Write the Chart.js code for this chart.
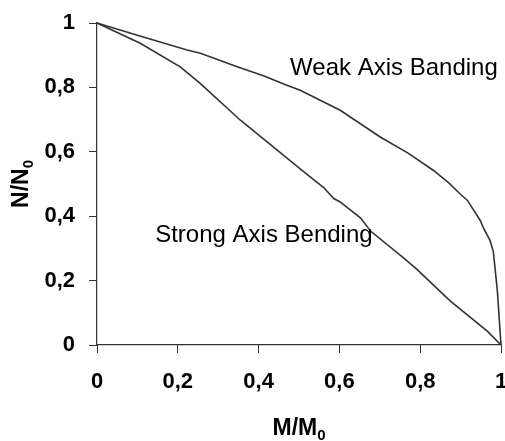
<!DOCTYPE html>
<html><head><meta charset="utf-8">
<script src="https://cdn.jsdelivr.net/npm/chart.js@4"></script>
<style>html,body{margin:0;padding:0;background:#fff}#wrap{width:505px;height:441px}</style>
</head><body><div id="wrap"><canvas id="c" width="505" height="441"></canvas></div>
<script>
// Data (M/M0 vs N/N0)
const weakM  = [0, 0.10, 0.223, 0.256, 0.347, 0.412, 0.470, 0.503, 0.602, 0.701, 0.770, 0.833, 0.870, 0.899, 0.917, 0.949, 0.956, 0.973, 0.981, 0.991, 1.0];
const weakN  = [1, 0.962, 0.916, 0.906, 0.864, 0.836, 0.807, 0.791, 0.729, 0.646, 0.596, 0.542, 0.504, 0.469, 0.449, 0.386, 0.365, 0.324, 0.290, 0.168, 0];
const strongM = [0, 0.107, 0.206, 0.256, 0.355, 0.503, 0.561, 0.586, 0.601, 0.652, 0.677, 0.758, 0.792, 0.874, 0.966, 1.0];
const strongN = [1, 0.937, 0.864, 0.812, 0.698, 0.547, 0.489, 0.455, 0.445, 0.395, 0.354, 0.271, 0.235, 0.137, 0.043, 0];
const xTickValues = [0, 0.2, 0.4, 0.6, 0.8, 1];
const yTickValues = [0, 0.2, 0.4, 0.6, 0.8, 1];
const xTitle = ['M/M', '0'];
const yTitle = ['N/N', '0'];
const noteTexts = ['Weak Axis Banding', 'Strong Axis Bending'];
const noteM = [0.478, 0.144];
const noteN = [0.839, 0.321];

const FONT = '"Liberation Sans", Arial, sans-serif';
const LINE = '#333333';
const toPts = (xs, ys) => xs.map((x, i) => ({x: x, y: ys[i]}));
const fmt = v => String(Math.round(v * 10) / 10).replace('.', ',');

const textPlugin = {
  id: 'texts',
  afterDraw(chart) {
    const ctx = chart.ctx, a = chart.chartArea;
    const xs = chart.scales.x, ys = chart.scales.y;
    ctx.save();
    ctx.fillStyle = '#000';
    ctx.textBaseline = 'alphabetic';
    // annotations
    ctx.font = '24px ' + FONT;
    ctx.textAlign = 'left';
    noteTexts.forEach((t, i) => {
      ctx.fillText(t, xs.getPixelForValue(noteM[i]), ys.getPixelForValue(noteN[i]));
    });
    // x title with subscript
    const big = 'bold 23px ' + FONT, small = 'bold 15px ' + FONT;
    ctx.font = big; const w1 = ctx.measureText(xTitle[0]).width;
    ctx.font = small; const w2 = ctx.measureText(xTitle[1]).width;
    const cx = (a.left + a.right) / 2, by = a.bottom + 90;
    let sx = cx - (w1 + w2) / 2;
    ctx.font = big; ctx.fillText(xTitle[0], sx, by);
    ctx.font = small; ctx.fillText(xTitle[1], sx + w1, by + 5);
    // y title rotated
    ctx.font = big; const h1 = ctx.measureText(yTitle[0]).width;
    ctx.font = small; const h2 = ctx.measureText(yTitle[1]).width;
    ctx.translate(28, (a.top + a.bottom) / 2);
    ctx.rotate(-Math.PI / 2);
    sx = -(h1 + h2) / 2;
    ctx.font = big; ctx.fillText(yTitle[0], sx, 0);
    ctx.font = small; ctx.fillText(yTitle[1], sx + h1, 5);
    ctx.restore();
  }
};

const axisCommon = (vals) => ({
  type: 'linear', min: 0, max: 1,
  afterBuildTicks: s => { s.ticks = vals.map(v => ({value: v})); },
  ticks: { callback: v => fmt(v), color: '#000', font: {family: FONT, size: 22, weight: 'bold'} },
  grid: { drawOnChartArea: false, drawTicks: true, tickLength: 8, color: LINE, lineWidth: 1 },
  border: { display: true, color: LINE, width: 1.2 }
});

const xAxis = axisCommon(xTickValues);
xAxis.ticks.padding = 16; xAxis.ticks.maxRotation = 0;
xAxis.afterFit = s => { s.height = 96; s.paddingLeft = 0; s.paddingRight = 0; };
const yAxis = axisCommon(yTickValues);
yAxis.ticks.padding = 14;
yAxis.afterFit = s => { s.width = 97; s.paddingTop = 0; s.paddingBottom = 0; };

new Chart(document.getElementById('c'), {
  type: 'scatter',
  data: { datasets: [
    { label: 'Weak Axis', data: toPts(weakM, weakN), showLine: true, borderColor: LINE, borderWidth: 1.6, pointRadius: 0, fill: false, tension: 0, clip: false },
    { label: 'Strong Axis', data: toPts(strongM, strongN), showLine: true, borderColor: LINE, borderWidth: 1.6, pointRadius: 0, fill: false, tension: 0, clip: false }
  ]},
  options: {
    responsive: false, animation: false, devicePixelRatio: 1,
    layout: { padding: { top: 23, right: 4, left: 0, bottom: 0 } },
    plugins: { legend: { display: false }, tooltip: { enabled: false } },
    scales: { x: xAxis, y: yAxis }
  },
  plugins: [textPlugin]
});
</script></body></html>
